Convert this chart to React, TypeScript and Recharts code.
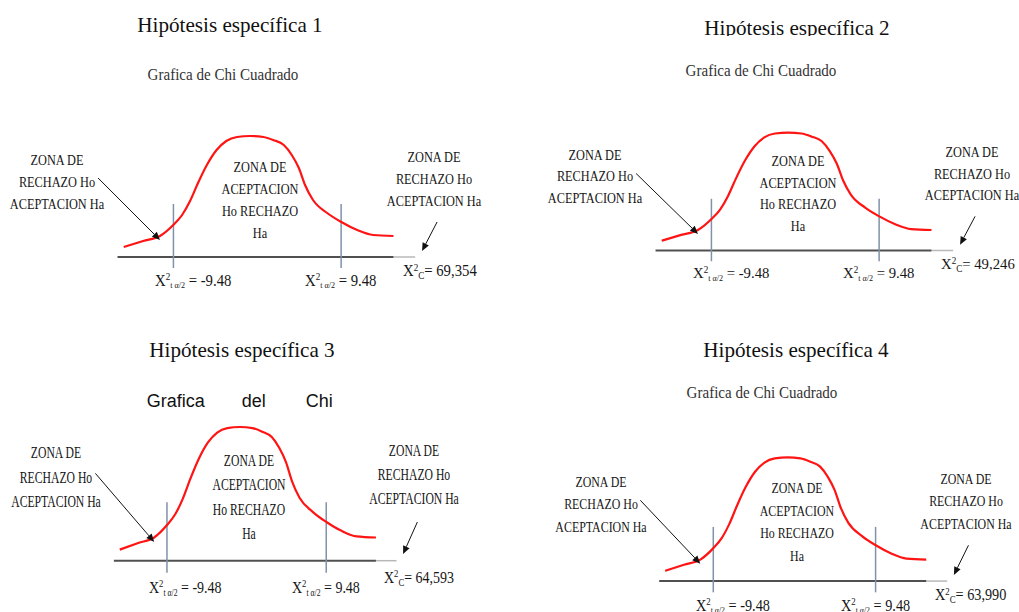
import React from 'react';
import { LineChart, Line, XAxis, YAxis, ReferenceLine } from 'recharts';

// curve: x in chi units, y = height above the base line
const curveX = [-15.1, -12.9, -11.0, -9.5, -8.5, -7.6, -6.7, -5.7, -4.6, -3.5, -2.3, -0.8, 0.7, 1.8, 3.0, 3.9, 4.7, 5.4, 6.3, 7.9, 9.5, 11.3, 13.1, 15.4];
const curveY = [10, 16, 21, 32, 42, 56, 74, 92, 107, 116, 120, 121, 120, 117, 112, 102, 89, 72, 57, 44, 35, 27, 22, 21];
const criticalValues = [-9.48, 9.48];
const titles = ['Hipótesis específica 1', 'Hipótesis específica 2', 'Hipótesis específica 3', 'Hipótesis específica 4'];
const subtitles = ['Grafica de Chi Cuadrado', 'Grafica de Chi Cuadrado', 'Grafica del Chi', 'Grafica de Chi Cuadrado'];
const chiCalculated = ['69,354', '49,246', '64,593', '63,990'];
const rejectLines = ['ZONA DE', 'RECHAZO Ho', 'ACEPTACION Ha'];
const acceptLines = ['ZONA DE', 'ACEPTACION', 'Ho RECHAZO', 'Ha'];

const curveData = curveX.map((x, i) => ({ x, y: curveY[i] }));

const SERIF = '"Liberation Serif", "Times New Roman", serif';
const SANS = '"Liberation Sans", Arial, sans-serif';

const X_MIN = -24;
const X_MAX = 24;
const Y_MIN = -20;
const Y_MAX = 140;

// placement of each scanned panel on the page
const panels = [
  { zero: 257.2, ppu: 8.845, axisY: 257.3, ys: 1, title: [230.2, 24.5], sub: [223, 75.2] },
  { zero: 795.2, ppu: 8.845, axisY: 250.7, ys: 0.975, title: [796.5, 27.8], sub: [761.2, 70.5], titleClip: 36 },
  { zero: 246.3, ppu: 8.4, axisY: 561, ys: 1.105, title: [242, 349.8], sub: [0, 0], words: [146.7, 241.7, 305.7] },
  { zero: 794.5, ppu: 8.56, axisY: 581, ys: 1.022, title: [796.3, 350], sub: [761.7, 392.8] },
];

const ArrowShape = (props: any) => {
  const { x1, y1, x2, y2 } = props;
  const a = Math.atan2(y2 - y1, x2 - x1);
  const L = 8;
  const W = 3.5;
  const bx = x2 - L * Math.cos(a);
  const by = y2 - L * Math.sin(a);
  const pts = [
    [x2, y2],
    [bx + W * Math.sin(a), by - W * Math.cos(a)],
    [bx - W * Math.sin(a), by + W * Math.cos(a)],
  ];
  return (
    <g>
      <line x1={x1} y1={y1} x2={bx} y2={by} stroke="#111" strokeWidth={1} />
      <polygon points={pts.map((p) => p.join(',')).join(' ')} fill="#111" />
    </g>
  );
};

const Txt = ({ x, y, sx = 1, sy = 1, size, left = false, color = '#161616', family = SERIF, children }: any) => (
  <div
    style={{
      position: 'absolute',
      left: x,
      top: y,
      fontSize: size,
      lineHeight: 1,
      fontFamily: family,
      color,
      whiteSpace: 'nowrap',
      transformOrigin: left ? 'left center' : 'center',
      transform: left ? `translate(0,-50%) scale(${sx},${sy})` : `translate(-50%,-50%) scale(${sx},${sy})`,
    }}
  >
    {children}
  </div>
);

const sup = { fontSize: '0.62em', verticalAlign: '0.55em' };
const sub = { fontSize: '0.55em', verticalAlign: '-0.3em' };

const ChiPanel = ({ p, i }: any) => {
  const px = (u: number) => p.zero + u * p.ppu;
  const py = (h: number) => p.axisY - h * p.ys;
  const kx = p.ppu / 8.845;
  const zoneSx = 0.82 * kx;
  const labelSx = 0.92 * kx;

  const title = (
    <Txt x={p.title[0]} y={p.title[1]} size={22} sx={0.96} color="#111">
      {titles[i]}
    </Txt>
  );

  return (
    <>
      {p.titleClip ? (
        <div style={{ position: 'absolute', left: 0, top: 0, width: 1019, height: p.titleClip, overflow: 'hidden' }}>{title}</div>
      ) : (
        title
      )}

      {p.words ? (
        <div style={{ position: 'absolute', left: 0, top: 380, width: 1019, height: 26.5, overflow: 'hidden' }}>
          {subtitles[i].split(' ').map((w: string, k: number) => (
            <div
              key={k}
              style={{ position: 'absolute', left: p.words[k], top: 11.7, fontFamily: SANS, fontSize: 18, lineHeight: 1, color: '#111' }}
            >
              {w}
            </div>
          ))}
        </div>
      ) : (
        <Txt x={p.sub[0]} y={p.sub[1]} size={16} sx={0.94} color="#333">
          {subtitles[i]}
        </Txt>
      )}

      <div style={{ position: 'absolute', left: px(X_MIN), top: py(Y_MAX) }}>
        <LineChart
          width={(X_MAX - X_MIN) * p.ppu}
          height={(Y_MAX - Y_MIN) * p.ys}
          data={curveData}
          margin={{ top: 0, right: 0, bottom: 0, left: 0 }}
        >
          <XAxis type="number" dataKey="x" domain={[X_MIN, X_MAX]} hide allowDataOverflow />
          <YAxis type="number" domain={[Y_MIN, Y_MAX]} hide allowDataOverflow />
          <ReferenceLine segment={[{ x: 15.4, y: 0 }, { x: 17.85, y: 0 }]} stroke="#b8b8b8" strokeWidth={1.5} />
          <ReferenceLine segment={[{ x: -15.8, y: 0 }, { x: 15.4, y: 0 }]} stroke="#505050" strokeWidth={2} />
          {criticalValues.map((v) => (
            <ReferenceLine key={v} segment={[{ x: v, y: -11 }, { x: v, y: 53 }]} stroke="#7f91ab" strokeWidth={1.5} />
          ))}
          <Line dataKey="y" type="monotone" stroke="#ff1414" strokeWidth={2.2} dot={false} isAnimationActive={false} />
          <ReferenceLine segment={[{ x: -18.0, y: 79 }, { x: -11.0, y: 17 }]} shape={ArrowShape} />
          <ReferenceLine segment={[{ x: 20.33, y: 35 }, { x: 18.63, y: 6 }]} shape={ArrowShape} />
        </LineChart>
      </div>

      {rejectLines.map((t, k) => (
        <Txt key={'l' + k} x={px(-22.6)} y={py(97.3 - 22 * k)} size={15} sx={zoneSx} sy={p.ys}>
          {t}
        </Txt>
      ))}
      {acceptLines.map((t, k) => (
        <Txt key={'c' + k} x={px(0.28)} y={py(90.6 - 22 * k)} size={15} sx={zoneSx} sy={p.ys}>
          {t}
        </Txt>
      ))}
      {rejectLines.map((t, k) => (
        <Txt key={'r' + k} x={px(20.0)} y={py(100 - 22 * k)} size={15} sx={zoneSx} sy={p.ys}>
          {t}
        </Txt>
      ))}

      {criticalValues.map((v, k) => (
        <Txt key={'v' + k} left x={px(k === 0 ? -11.55 : 5.4)} y={py(-24)} size={16} sx={labelSx} sy={p.ys}>
          X<span style={sup}>2</span>
          <span style={sub}>t α/2</span> = {v.toFixed(2)}
        </Txt>
      ))}
      <Txt left x={px(16.45)} y={py(-15)} size={16} sx={labelSx} sy={p.ys}>
        X<span style={sup}>2</span>
        <span style={{ fontSize: '0.62em', verticalAlign: '-0.3em' }}>C</span>= {chiCalculated[i]}
      </Txt>
    </>
  );
};

export default function App() {
  return (
    <div style={{ position: 'absolute', left: 0, top: 0, width: 1019, height: 612, background: '#fff', overflow: 'hidden' }}>
      {panels.map((p, i) => (
        <ChiPanel key={i} p={p} i={i} />
      ))}
    </div>
  );
}
